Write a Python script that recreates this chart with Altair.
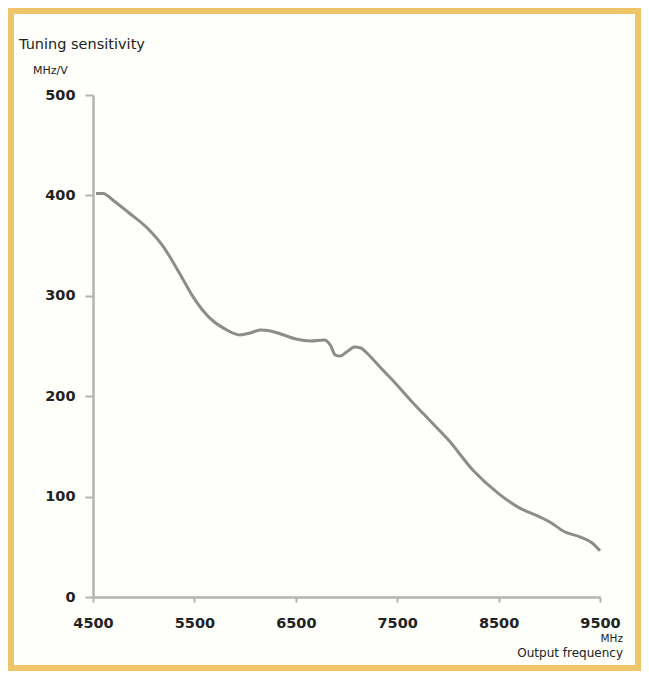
import altair as alt
import pandas as pd

# Output frequency (MHz) and tuning sensitivity (MHz/V)
freq = [4530, 4600, 4700, 4850, 5050, 5200, 5350, 5500, 5650, 5800, 5950, 6050,
        6150, 6250, 6350, 6500, 6650, 6780, 6840, 6890, 6940, 7000, 7080, 7140,
        7220, 7330, 7500, 7650, 7820, 8000, 8250, 8500, 8700, 8900, 9000, 9150,
        9300, 9420, 9500]
sens = [402, 402, 395, 383, 366, 348, 323, 297, 278, 267, 261, 263,
        266, 265, 262, 257, 255, 256, 251, 241, 240, 244, 249, 248,
        241, 229, 211, 194, 176, 157, 126, 103, 89, 80, 75, 65,
        60, 54, 46]

x_ticks = [4500, 5500, 6500, 7500, 8500, 9500]
y_ticks = [0, 100, 200, 300, 400, 500]

y_title = "Tuning sensitivity"
y_unit = "MHz/V"
x_unit = "MHz"
x_title = "Output frequency"

W, H = 507, 502
PAD = {"left": 85, "top": 87, "right": 41, "bottom": 74}

df = pd.DataFrame({"f": freq, "s": sens})
one = pd.DataFrame({"a": [0]})

panel = alt.Chart(one).mark_rect(color="#fefefb").encode(
    x=alt.value(-PAD["left"] + 6), x2=alt.value(W + PAD["right"] - 6),
    y=alt.value(-PAD["top"] + 6), y2=alt.value(H + PAD["bottom"] - 6),
)

line = alt.Chart(df).mark_line(
    color="#8c8c8c", strokeWidth=3, interpolate="monotone"
).encode(
    x=alt.X("f:Q", scale=alt.Scale(domain=[4500, 9500], nice=False, zero=False),
            axis=alt.Axis(values=x_ticks, format="d", title=None, grid=False,
                          tickSize=5, labelPadding=14, labelFont="DejaVu Sans",
                          labelFontWeight="bold", labelFontSize=14.5,
                          labelColor="#222222", labelFlush=False, zindex=1)),
    y=alt.Y("s:Q", scale=alt.Scale(domain=[0, 500], nice=False),
            axis=alt.Axis(values=y_ticks, format="d", title=None, grid=False,
                          tickSize=8, labelPadding=10, labelFont="DejaVu Sans",
                          labelFontWeight="bold", labelFontSize=14.5,
                          labelColor="#222222", zindex=1)),
)

def label(txt, x, y, size, align="left"):
    return alt.Chart(pd.DataFrame({"t": [txt]})).mark_text(
        font="DejaVu Sans", fontSize=size, color="#222222", align=align,
        baseline="alphabetic"
    ).encode(x=alt.value(x), y=alt.value(y), text="t:N")

chart = alt.layer(
    panel,
    line,
    label(y_title, -74, -46, 14.5),
    label(y_unit, -60, -21, 11),
    label(x_unit, 530, 547, 10.5, "right"),
    label(x_title, 530, 562, 12, "right"),
).properties(
    width=W, height=H,
    padding=PAD,
    autosize=alt.AutoSizeParams(type="none"),
    background="#efc56a",
).configure_view(stroke=None).configure_axis(
    domainColor="#b3b3b3", domainWidth=2.5, tickColor="#b3b3b3", tickWidth=2
)

chart.save("out.html", embed_options={"renderer": "svg", "actions": False})
